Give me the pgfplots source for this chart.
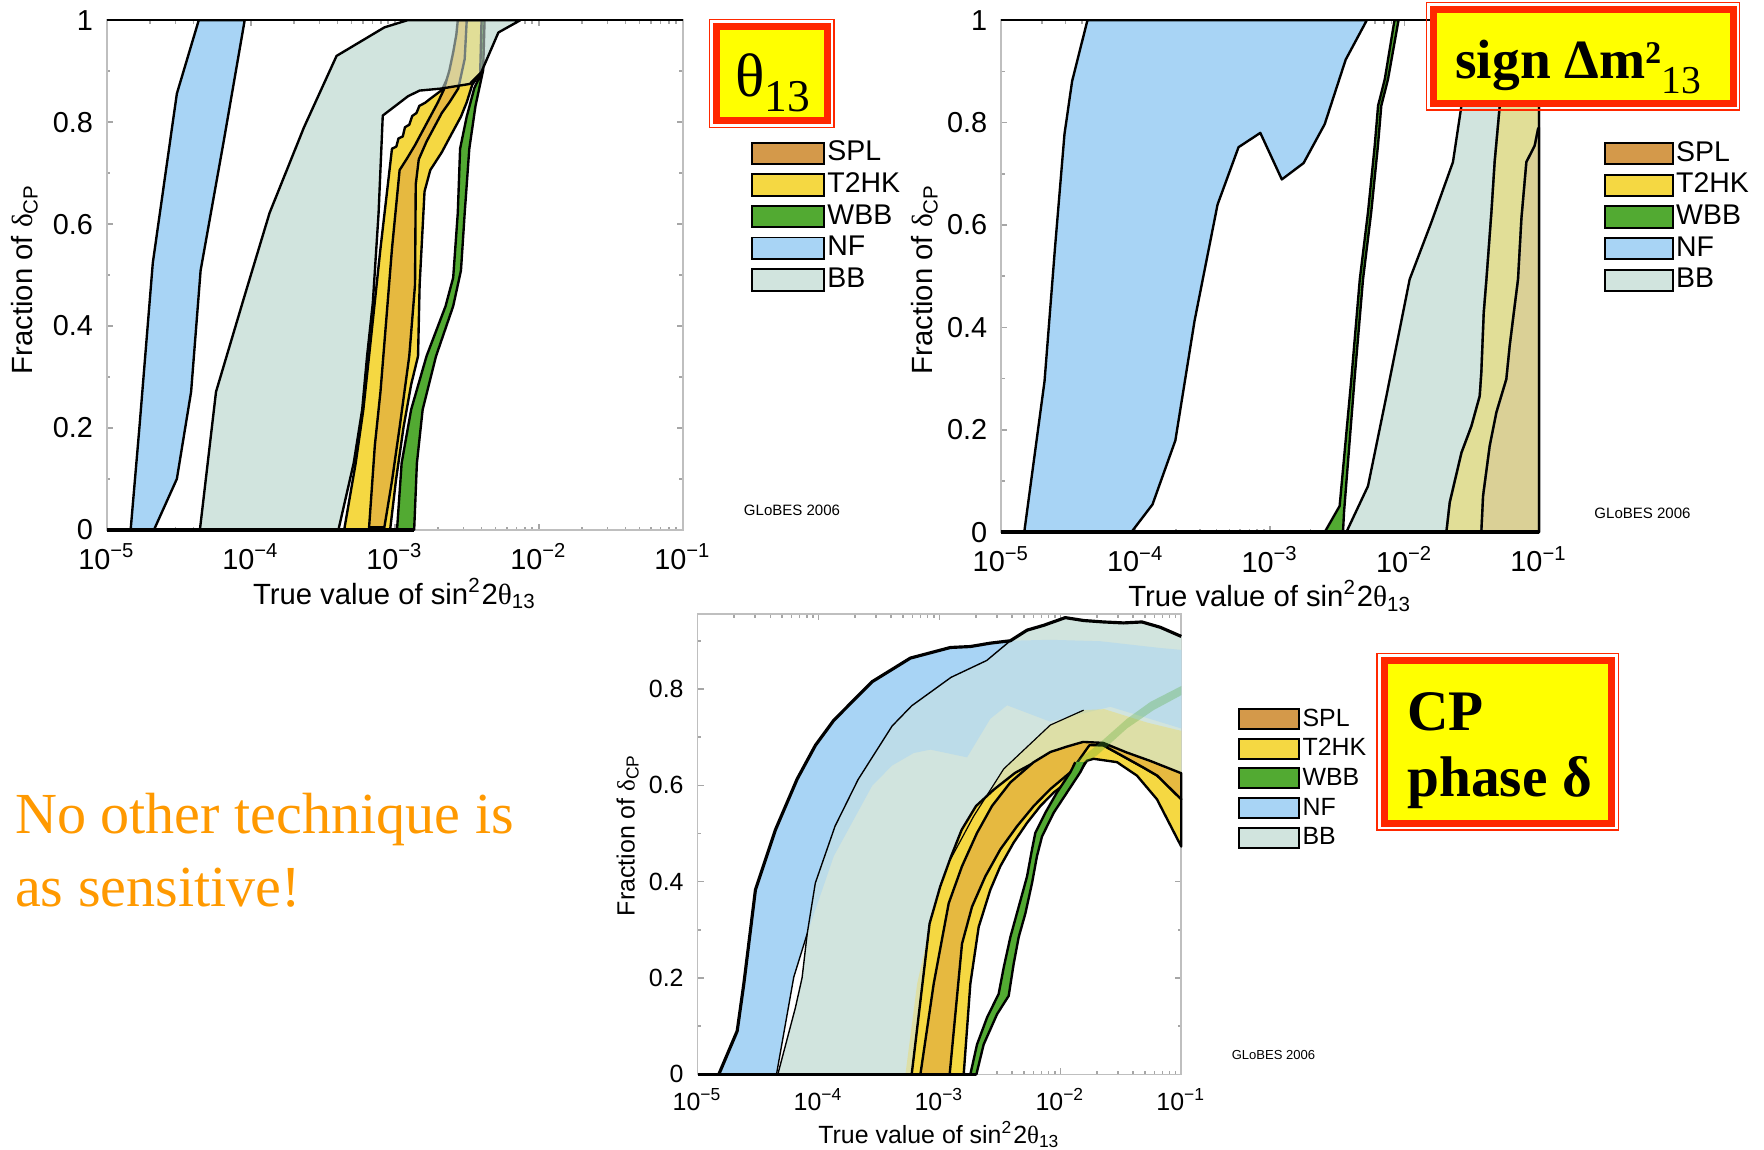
\documentclass[border=0pt]{standalone}
\usepackage{fontspec}
\setmainfont{Liberation Sans}
\newfontfamily\tnr{Liberation Serif}
\usepackage{pgfplots}
\pgfplotsset{compat=1.18}

\definecolor{NFc}{RGB}{168,212,245}
\definecolor{BBc}{RGB}{209,228,222}
\definecolor{T2c}{RGB}{245,216,66}
\definecolor{SPc}{RGB}{230,185,64}
\definecolor{SPleg}{RGB}{212,153,74}
\definecolor{WBc}{RGB}{82,170,50}
\definecolor{boxred}{RGB}{255,40,0}
\definecolor{boxyel}{RGB}{255,255,0}
\definecolor{txtorange}{RGB}{255,153,0}

\pgfplotsset{
  panel/.style={
    scale only axis, clip=false, anchor=south west,
    xmin=-5, xmax=-1, ymin=0,
    axis line style={gray!50, line width=0.4pt},
    tick style={gray!70, line width=0.4pt},
    major tick length=0.55mm, minor tick length=0.3mm,
    tick align=inside,
    xtick={-5,-4,-3,-2,-1},
    xticklabels={10\textsuperscript{−5},10\textsuperscript{−4},10\textsuperscript{−3},10\textsuperscript{−2},10\textsuperscript{−1}},
    minor xtick={-4.699,-4.523,-4.398,-4.301,-4.222,-4.155,-4.097,-4.046,
                 -3.699,-3.523,-3.398,-3.301,-3.222,-3.155,-3.097,-3.046,
                 -2.699,-2.523,-2.398,-2.301,-2.222,-2.155,-2.097,-2.046,
                 -1.699,-1.523,-1.398,-1.301,-1.222,-1.155,-1.097,-1.046},
    minor ytick={0.1,0.3,0.5,0.7,0.9},
    legend cell align=left,
  },
  band/.style={forget plot, fill=#1, draw=black, line width=0.6pt, line join=round},
  fillonly/.style={forget plot, fill=#1, draw=none},
  edge/.style={forget plot, draw=black, line width=#1, fill=none, line join=round},
}

\newcommand\mylegend{%
  \addlegendimage{fill=SPleg,draw=black}\addlegendentry{SPL}
  \addlegendimage{fill=T2c,draw=black}\addlegendentry{T2HK}
  \addlegendimage{fill=WBc,draw=black}\addlegendentry{WBB}
  \addlegendimage{fill=NFc,draw=black}\addlegendentry{NF}
  \addlegendimage{fill=BBc,draw=black}\addlegendentry{BB}
}

\begin{document}
\begin{tikzpicture}
\path[use as bounding box] (0,0) rectangle (156.8mm,-102.2mm);

% ================= PLOT 1 : theta13 =================
\begin{axis}[panel, at={(9.5mm,-47.1mm)}, width=51.2mm, height=45.3mm, ymax=1,
  ytick={0,0.2,0.4,0.6,0.8,1}, yticklabels={0,0.2,0.4,0.6,0.8,1},
  tick label style={font=\fontsize{7.3}{8}\selectfont},
  legend image code/.code={\draw[#1, line width=0.5pt] (0mm,-0.95mm) rectangle (6.4mm,0.95mm);},
  legend style={at={(1.117,0.7715)}, anchor=north west, draw=none, fill=none, inner sep=0pt,
    font=\fontsize{7.2}{8}\selectfont, nodes={inner sep=0.6pt, text height=5.3pt, text depth=1.5pt}, row sep=0pt}]
\addplot[fillonly=BBc] coordinates {(-4.354,0) (-4.242,0.271) (-4.043,0.460) (-3.870,0.622) (-3.631,0.790) (-3.405,0.930) (-3.073,0.986) (-2.913,1) (-2.129,1) (-2.281,0.976) (-2.400,0.898) (-2.480,0.875) (-2.677,0.866) (-2.828,0.862) (-2.908,0.851) (-3.084,0.813) (-3.113,0.622) (-3.153,0.446) (-3.193,0.341) (-3.227,0.236) (-3.286,0.131) (-3.392,0)} -- cycle;
\addplot[band=NFc] coordinates {(-4.835,0) (-4.774,0.201) (-4.681,0.524) (-4.514,0.856) (-4.362,1) (-4.043,1) (-4.189,0.762) (-4.349,0.509) (-4.415,0.271) (-4.514,0.100) (-4.673,0)} -- cycle;
\addplot[band=T2c] coordinates {(-3.352,0) (-3.272,0.131) (-3.219,0.236) (-3.166,0.376) (-3.100,0.552) (-3.020,0.748) (-2.990,0.752) (-2.975,0.768) (-2.945,0.772) (-2.930,0.790) (-2.900,0.795) (-2.880,0.812) (-2.850,0.818) (-2.830,0.832) (-2.790,0.838) (-2.754,0.846) (-2.674,0.863) (-2.608,0.902) (-2.568,0.944) (-2.528,1) (-2.387,1) (-2.400,0.898) (-2.462,0.874) (-2.501,0.839) (-2.541,0.811) (-2.608,0.776) (-2.674,0.741) (-2.754,0.706) (-2.794,0.664) (-2.828,0.481) (-2.839,0.341) (-2.887,0.285) (-2.940,0.201) (-2.993,0.096) (-3.033,0)} -- cycle;
\addplot[band=SPc] coordinates {(-3.179,0.005) (-3.139,0.166) (-3.100,0.271) (-3.060,0.411) (-3.020,0.552) (-2.967,0.706) (-2.913,0.730) (-2.860,0.755) (-2.807,0.783) (-2.754,0.811) (-2.701,0.839) (-2.661,0.863) (-2.621,0.902) (-2.595,0.937) (-2.573,0.972) (-2.563,1) (-2.501,1) (-2.515,0.924) (-2.560,0.866) (-2.621,0.839) (-2.674,0.818) (-2.727,0.790) (-2.780,0.762) (-2.834,0.727) (-2.855,0.678) (-2.860,0.481) (-2.900,0.341) (-2.967,0.201) (-3.020,0.096) (-3.073,0.005)} -- cycle;
\addplot[band=WBc] coordinates {(-2.985,0) (-2.953,0.131) (-2.887,0.236) (-2.780,0.341) (-2.648,0.439) (-2.595,0.495) (-2.563,0.622) (-2.547,0.748) (-2.501,0.811) (-2.448,0.867) (-2.408,0.891) (-2.398,1) (-2.377,1) (-2.387,0.902) (-2.440,0.832) (-2.483,0.748) (-2.515,0.622) (-2.541,0.509) (-2.595,0.439) (-2.714,0.341) (-2.807,0.236) (-2.847,0.131) (-2.866,0)} -- cycle;
\addplot[forget plot, fill=BBc, fill opacity=0.55, draw=black, line width=0.6pt, line join=round] coordinates {(-4.354,0) (-4.242,0.271) (-4.043,0.460) (-3.870,0.622) (-3.631,0.790) (-3.405,0.930) (-3.073,0.986) (-2.913,1) (-2.129,1) (-2.281,0.976) (-2.400,0.898) (-2.480,0.875) (-2.677,0.866) (-2.828,0.862) (-2.908,0.851) (-3.084,0.813) (-3.113,0.622) (-3.153,0.446) (-3.193,0.341) (-3.227,0.236) (-3.286,0.131) (-3.392,0)} -- cycle;
\addplot[edge=0.9pt] coordinates {(-5,0) (-2.866,0)};
\addplot[edge=0.4pt] coordinates {(-5,1) (-1,1)};
\mylegend
\end{axis}

% ================= PLOT 2 : sign dm2 =================
\begin{axis}[panel, at={(89.0mm,-47.3mm)}, width=47.8mm, height=45.5mm, ymax=1,
  ytick={0,0.2,0.4,0.6,0.8,1}, yticklabels={0,0.2,0.4,0.6,0.8,1},
  tick label style={font=\fontsize{7.3}{8}\selectfont},
  legend image code/.code={\draw[#1, line width=0.5pt] (0mm,-0.95mm) rectangle (6.0mm,0.95mm);},
  legend style={at={(1.120,0.7716)}, anchor=north west, draw=none, fill=none, inner sep=0pt,
    font=\fontsize{7.2}{8}\selectfont, nodes={inner sep=0.6pt, text height=5.3pt, text depth=1.5pt}, row sep=0pt}]
\addplot[fillonly=BBc] coordinates {(-2.433,0) (-2.272,0.090) (-2.135,0.266) (-1.962,0.494) (-1.801,0.605) (-1.640,0.723) (-1.577,0.833) (-1.545,0.920) (-1.520,1) (-1,1) (-1,0)} -- cycle;
\addplot[band=NFc] coordinates {(-4.829,0) (-4.678,0.295) (-4.601,0.553) (-4.530,0.777) (-4.473,0.881) (-4.359,1) (-2.281,1) (-2.438,0.923) (-2.594,0.797) (-2.751,0.721) (-2.913,0.689) (-3.073,0.780) (-3.235,0.752) (-3.391,0.640) (-3.562,0.413) (-3.705,0.179) (-3.875,0.054) (-4.032,0)} -- cycle;
\addplot[band=WBc] coordinates {(-2.594,0) (-2.483,0.051) (-2.396,0.299) (-2.333,0.494) (-2.272,0.625) (-2.222,0.755) (-2.197,0.833) (-2.147,0.885) (-2.075,1) (-2.045,1) (-2.123,0.885) (-2.173,0.833) (-2.198,0.755) (-2.248,0.625) (-2.309,0.494) (-2.372,0.299) (-2.450,0.040) (-2.458,0)} -- cycle;
\addplot[band=T2c] coordinates {(-1.689,0) (-1.664,0.058) (-1.577,0.155) (-1.503,0.207) (-1.441,0.266) (-1.429,0.312) (-1.411,0.429) (-1.391,0.494) (-1.354,0.625) (-1.330,0.723) (-1.292,0.833) (-1.270,0.920) (-1.250,1) (-1,1) (-1,0)} -- cycle;
\addplot[band=SPc] coordinates {(-1.429,0) (-1.416,0.071) (-1.367,0.168) (-1.317,0.234) (-1.243,0.299) (-1.218,0.364) (-1.181,0.442) (-1.156,0.494) (-1.131,0.612) (-1.094,0.723) (-1.032,0.755) (-1.007,0.788) (-1,0.790) (-1,0)} -- cycle;
\addplot[forget plot, fill=BBc, fill opacity=0.55, draw=black, line width=0.6pt, line join=round] coordinates {(-2.433,0) (-2.272,0.090) (-2.135,0.266) (-1.962,0.494) (-1.801,0.605) (-1.640,0.723) (-1.577,0.833) (-1.545,0.920) (-1.520,1) (-1,1) (-1,0)} -- cycle;
\addplot[edge=0.6pt] coordinates {(-1.689,0) (-1.664,0.058) (-1.577,0.155) (-1.503,0.207) (-1.441,0.266) (-1.429,0.312) (-1.411,0.429) (-1.391,0.494) (-1.354,0.625) (-1.330,0.723) (-1.292,0.833) (-1.270,0.920) (-1.250,1)};
\addplot[edge=0.6pt] coordinates {(-1.429,0) (-1.416,0.071) (-1.367,0.168) (-1.317,0.234) (-1.243,0.299) (-1.218,0.364) (-1.181,0.442) (-1.156,0.494) (-1.131,0.612) (-1.094,0.723) (-1.032,0.755) (-1.007,0.788) (-1,0.790)};
\addplot[edge=0.9pt] coordinates {(-5,0) (-1,0)};
\addplot[edge=0.4pt] coordinates {(-5,1) (-1,1)};
\mylegend
\end{axis}

% ================= PLOT 3 : CP phase =================
\begin{axis}[panel, at={(62.0mm,-95.5mm)}, width=43.0mm, height=40.9mm, ymax=0.955,
  ytick={0,0.2,0.4,0.6,0.8}, yticklabels={0,0.2,0.4,0.6,0.8},
  tick label style={font=\fontsize{6.3}{7}\selectfont},
  legend image code/.code={\draw[#1, line width=0.5pt] (0mm,-0.89mm) rectangle (5.4mm,0.89mm);},
  legend style={at={(1.115,0.806)}, anchor=north west, draw=none, fill=none, inner sep=0pt,
    font=\fontsize{6.3}{7}\selectfont, nodes={inner sep=0.55pt, text height=5.0pt, text depth=1.4pt}, row sep=0pt}]
\addplot[fillonly=BBc] coordinates {(-4.336,0) (-4.190,0.139) (-4.135,0.201) (-4.093,0.292) (-4.026,0.397) (-3.863,0.515) (-3.672,0.612) (-3.391,0.723) (-3.229,0.765) (-2.904,0.824) (-2.609,0.859) (-2.413,0.900) (-2.275,0.922) (-2.138,0.932) (-1.959,0.948) (-1.807,0.942) (-1.642,0.939) (-1.477,0.937) (-1.325,0.939) (-1.174,0.928) (-1,0.909) (-1,0.473) (-1.201,0.571) (-1.366,0.620) (-1.531,0.648) (-1.725,0.655) (-1.780,0.651) (-1.862,0.620) (-1.945,0.606) (-2.055,0.585) (-2.165,0.557) (-2.275,0.522) (-2.386,0.481) (-2.496,0.432) (-2.579,0.383) (-2.675,0.306) (-2.744,0.188) (-2.799,0)} -- cycle;
\addplot[fillonly=NFc] coordinates {(-4.824,0) (-4.672,0.090) (-4.617,0.188) (-4.521,0.383) (-4.355,0.508) (-4.176,0.613) (-4.025,0.683) (-3.873,0.735) (-3.556,0.815) (-3.240,0.864) (-2.909,0.886) (-2.744,0.888) (-2.579,0.895) (-2.413,0.900) (-2.083,0.902) (-1.669,0.899) (-1.174,0.885) (-1,0.881) (-1,0.718) (-1.587,0.763) (-2.083,0.732) (-2.440,0.766) (-2.579,0.738) (-2.771,0.658) (-3.074,0.674) (-3.212,0.667) (-3.391,0.641) (-3.556,0.599) (-3.873,0.453) (-4.093,0.292) (-4.204,0.202) (-4.347,0)} -- cycle;
\addplot[forget plot, fill=BBc, fill opacity=0.5, draw=none] coordinates {(-4.336,0) (-4.190,0.139) (-4.135,0.201) (-4.093,0.292) (-4.026,0.397) (-3.863,0.515) (-3.672,0.612) (-3.391,0.723) (-3.229,0.765) (-2.904,0.824) (-2.609,0.859) (-2.413,0.900) (-2.275,0.922) (-2.138,0.932) (-1.959,0.948) (-1.807,0.942) (-1.642,0.939) (-1.477,0.937) (-1.325,0.939) (-1.174,0.928) (-1,0.909) (-1,0.473) (-1.201,0.571) (-1.366,0.620) (-1.531,0.648) (-1.725,0.655) (-1.780,0.651) (-1.862,0.620) (-1.945,0.606) (-2.055,0.585) (-2.165,0.557) (-2.275,0.522) (-2.386,0.481) (-2.496,0.432) (-2.579,0.383) (-2.675,0.306) (-2.744,0.188) (-2.799,0)} -- cycle;
\addplot[forget plot, fill=T2c, fill opacity=0.35, draw=none] coordinates {(-3.281,0) (-3.184,0.188) (-3.047,0.341) (-2.909,0.446) (-2.716,0.536) (-2.468,0.634) (-2.083,0.725) (-1.807,0.756) (-1.635,0.758) (-1.280,0.730) (-1,0.713) (-1,0.473) (-1.201,0.571) (-1.366,0.620) (-1.531,0.648) (-1.725,0.655) (-1.780,0.651) (-1.862,0.620) (-1.945,0.606) (-2.055,0.585) (-2.165,0.557) (-2.275,0.522) (-2.386,0.481) (-2.496,0.432) (-2.579,0.383) (-2.675,0.306) (-2.744,0.188) (-2.799,0)} -- cycle;
\addplot[band=T2c] coordinates {(-3.229,0) (-3.140,0.188) (-3.081,0.313) (-2.993,0.390) (-2.904,0.452) (-2.815,0.508) (-2.697,0.557) (-2.550,0.591) (-2.373,0.626) (-2.166,0.654) (-1.989,0.671) (-1.812,0.685) (-1.645,0.683) (-1.314,0.637) (-1.198,0.620) (-1,0.571) (-1,0.473) (-1.201,0.571) (-1.366,0.620) (-1.531,0.648) (-1.725,0.655) (-1.780,0.651) (-1.862,0.620) (-1.945,0.606) (-2.055,0.585) (-2.165,0.557) (-2.275,0.522) (-2.386,0.481) (-2.496,0.432) (-2.579,0.383) (-2.675,0.306) (-2.744,0.188) (-2.799,0)} -- cycle;
\addplot[band=SPc] coordinates {(-3.157,0) (-3.047,0.188) (-2.923,0.355) (-2.813,0.432) (-2.689,0.501) (-2.565,0.557) (-2.413,0.606) (-2.220,0.648) (-2.083,0.669) (-1.950,0.680) (-1.812,0.690) (-1.645,0.688) (-1.450,0.668) (-1.250,0.650) (-1,0.625) (-1,0.571) (-1.198,0.620) (-1.314,0.637) (-1.645,0.683) (-1.760,0.683) (-1.917,0.627) (-2.083,0.592) (-2.220,0.557) (-2.358,0.515) (-2.496,0.467) (-2.620,0.411) (-2.730,0.348) (-2.813,0.271) (-2.915,0)} -- cycle;
\addplot[forget plot, fill=WBc, draw=black, line width=0.6pt, line join=round] coordinates {(-1.876,0.648) (-1.917,0.627) (-2.028,0.585) (-2.124,0.543) (-2.207,0.501) (-2.234,0.467) (-2.275,0.411) (-2.344,0.348) (-2.413,0.285) (-2.468,0.222) (-2.510,0.167) (-2.606,0.118) (-2.689,0.062) (-2.744,0) (-2.694,0) (-2.634,0.062) (-2.523,0.125) (-2.427,0.163) (-2.386,0.229) (-2.344,0.285) (-2.289,0.334) (-2.234,0.397) (-2.193,0.453) (-2.151,0.494) (-2.055,0.543) (-1.945,0.585) (-1.835,0.627) (-1.793,0.648)};
\addplot[forget plot, fill=WBc, fill opacity=0.3, draw=none] coordinates {(-1.876,0.648) (-1.697,0.683) (-1.449,0.738) (-1.256,0.773) (-1.008,0.805) (-1,0.806) (-1,0.787) (-1.229,0.756) (-1.449,0.718) (-1.697,0.662) (-1.793,0.648)} -- cycle;
% outlines
\addplot[edge=0.8pt] coordinates {(-4.824,0) (-4.672,0.090) (-4.617,0.188) (-4.521,0.383) (-4.355,0.508) (-4.176,0.613) (-4.025,0.683) (-3.873,0.735) (-3.556,0.815) (-3.240,0.864) (-2.909,0.886) (-2.744,0.888) (-2.579,0.895) (-2.413,0.900) (-2.275,0.922) (-2.138,0.932) (-1.959,0.948) (-1.807,0.942) (-1.642,0.939) (-1.477,0.937) (-1.325,0.939) (-1.174,0.928) (-1,0.909)};
\addplot[edge=0.35pt] coordinates {(-4.336,0) (-4.190,0.139) (-4.135,0.201) (-4.093,0.292) (-4.026,0.397) (-3.863,0.515) (-3.672,0.612) (-3.391,0.723) (-3.229,0.765) (-2.904,0.824) (-2.609,0.859) (-2.413,0.900)};
\addplot[edge=0.35pt] coordinates {(-4.347,0) (-4.204,0.202) (-4.093,0.292)};
\addplot[edge=0.3pt] coordinates {(-2.909,0.446) (-2.716,0.536) (-2.468,0.634) (-2.083,0.725) (-1.807,0.756)};
\addplot[edge=0.7pt] coordinates {(-5,0) (-2.694,0)};
\mylegend
\end{axis}

% ---------- axis labels ----------
\node[font=\fontsize{7.4}{8}\selectfont, anchor=base] at (35.1mm,-53.7mm) {True value of sin\textsuperscript{2}2{\tnr θ}\textsubscript{13}};
\node[font=\fontsize{7.4}{8}\selectfont, anchor=base] at (112.9mm,-53.9mm) {True value of sin\textsuperscript{2}2{\tnr θ}\textsubscript{13}};
\node[font=\fontsize{6.3}{7}\selectfont, anchor=base] at (83.5mm,-101.6mm) {True value of sin\textsuperscript{2}2{\tnr θ}\textsubscript{13}};
\node[font=\fontsize{7.4}{8}\selectfont, rotate=90] at (2.2mm,-24.8mm) {Fraction of {\tnr δ}\textsubscript{CP}};
\node[font=\fontsize{7.4}{8}\selectfont, rotate=90] at (82.2mm,-24.8mm) {Fraction of {\tnr δ}\textsubscript{CP}};
\node[font=\fontsize{6.3}{7}\selectfont, rotate=90] at (55.8mm,-74.2mm) {Fraction of {\tnr δ}\textsubscript{CP}};

% ---------- GLoBES ----------
\node[font=\fontsize{3.8}{4}\selectfont] at (70.4mm,-45.4mm) {GLoBES 2006};
\node[font=\fontsize{3.8}{4}\selectfont] at (146.0mm,-45.6mm) {GLoBES 2006};
\node[font=\fontsize{3.3}{4}\selectfont] at (113.2mm,-93.8mm) {GLoBES 2006};

% ---------- title boxes ----------
\draw[boxred, line width=0.12mm] (63.05mm,-1.72mm) rectangle (74.13mm,-11.32mm);
\draw[boxred, fill=boxyel, line width=0.65mm] (63.68mm,-2.34mm) rectangle (73.54mm,-10.73mm);
\node[anchor=base, inner sep=0pt] at (68.67mm,-8.59mm) {\tnr\fontsize{15.5}{16}\selectfont θ\raisebox{-1.34mm}{\fontsize{11.5}{12}\selectfont 13}};

\draw[boxred, line width=0.12mm] (126.8mm,-0.24mm) rectangle (154.6mm,-9.78mm);
\draw[boxred, fill=boxyel, line width=0.63mm] (127.38mm,-0.83mm) rectangle (154.05mm,-9.22mm);
\node[anchor=base west, inner sep=0pt] at (129.3mm,-6.96mm) {\tnr\bfseries\fontsize{14}{15}\selectfont sign Δm\raisebox{1.33mm}{\fontsize{8}{9}\selectfont 2}\raisebox{-1.34mm}{\mdseries\fontsize{10}{11}\selectfont 13}};

\draw[boxred, line width=0.12mm] (122.4mm,-58.07mm) rectangle (143.85mm,-73.78mm);
\draw[boxred, fill=boxyel, line width=0.66mm] (123.07mm,-58.7mm) rectangle (143.26mm,-73.19mm);
\node[anchor=base west, inner sep=0pt] at (125.04mm,-64.89mm) {\tnr\bfseries\fontsize{14.5}{16}\selectfont CP};
\node[anchor=base west, inner sep=0pt] at (125.04mm,-70.81mm) {\tnr\bfseries\fontsize{14.5}{16}\selectfont phase δ};

% ---------- orange text ----------
\node[anchor=base west, inner sep=0pt, text=txtorange] at (1.27mm,-74.06mm) {\tnr\fontsize{14.7}{18}\selectfont No other technique is};
\node[anchor=base west, inner sep=0pt, text=txtorange] at (1.27mm,-80.57mm) {\tnr\fontsize{14.7}{18}\selectfont as sensitive!};
\end{tikzpicture}
\end{document}
